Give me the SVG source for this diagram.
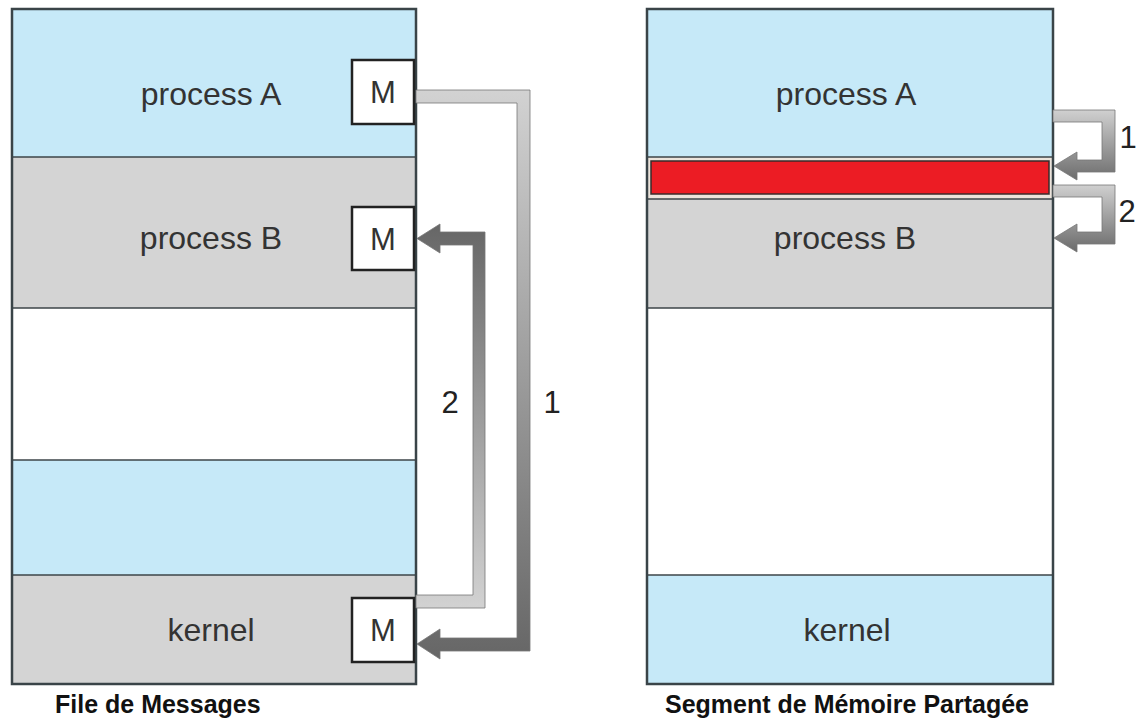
<svg xmlns="http://www.w3.org/2000/svg" width="1141" height="719" viewBox="0 0 1141 719">
  <style>
    .blue { fill: #c6e9f8; }
    .gray { fill: #d4d4d4; }
    .white { fill: #ffffff; }
    .div { stroke: #3c4448; stroke-width: 1.5; }
    .frame { fill: none; stroke: #3a4448; stroke-width: 2.5; }
    .lbl { font-family: "Liberation Sans", Arial, sans-serif; font-size: 32px; fill: #333; text-anchor: middle; }
    .m { font-family: "Liberation Sans", Arial, sans-serif; font-size: 31px; fill: #333; text-anchor: middle; }
    .num { font-family: "Liberation Sans", Arial, sans-serif; font-size: 31px; fill: #222; text-anchor: middle; }
    .cap { font-family: "Liberation Sans", Arial, sans-serif; font-size: 25px; font-weight: bold; fill: #111; }
    .mbox { fill: #ffffff; stroke: #222; stroke-width: 2.5; }
    .arrow { stroke: #777; stroke-width: 0.8; }
  </style>
  <defs>
    <linearGradient id="gA1" gradientUnits="userSpaceOnUse" x1="0" y1="90" x2="0" y2="660">
      <stop offset="0" stop-color="#d2d2d2"/>
      <stop offset="1" stop-color="#666666"/>
    </linearGradient>
    <linearGradient id="gA2" gradientUnits="userSpaceOnUse" x1="0" y1="608" x2="0" y2="224">
      <stop offset="0" stop-color="#d2d2d2"/>
      <stop offset="1" stop-color="#666666"/>
    </linearGradient>
    <linearGradient id="gR1" gradientUnits="userSpaceOnUse" x1="0" y1="110" x2="0" y2="182">
      <stop offset="0" stop-color="#d0d0d0"/>
      <stop offset="1" stop-color="#6a6a6a"/>
    </linearGradient>
    <linearGradient id="gR2" gradientUnits="userSpaceOnUse" x1="0" y1="185" x2="0" y2="252">
      <stop offset="0" stop-color="#d0d0d0"/>
      <stop offset="1" stop-color="#6a6a6a"/>
    </linearGradient>
  </defs>

  <rect x="0" y="0" width="1141" height="719" fill="#ffffff"/>

  <!-- Left panel: message queue -->
  <g id="left-panel">
    <rect class="blue" x="12" y="9" width="404" height="148"/>
    <rect class="gray" x="12" y="157" width="404" height="151"/>
    <rect class="white" x="12" y="308" width="404" height="152"/>
    <rect class="blue" x="12" y="460" width="404" height="115"/>
    <rect class="gray" x="12" y="575" width="404" height="109"/>
    <line class="div" x1="12" y1="157" x2="416" y2="157"/>
    <line class="div" x1="12" y1="308" x2="416" y2="308"/>
    <line class="div" x1="12" y1="460" x2="416" y2="460"/>
    <line class="div" x1="12" y1="575" x2="416" y2="575"/>
    <rect class="frame" x="12" y="9" width="404" height="675"/>
  </g>
  <g id="left-processA">
    <text class="lbl" x="211" y="105">process A</text>
    <rect class="mbox" x="352" y="60" width="62" height="64"/>
    <text class="m" x="383" y="103">M</text>
  </g>
  <g id="left-processB">
    <text class="lbl" x="211" y="249">process B</text>
    <rect class="mbox" x="352" y="207" width="62" height="63"/>
    <text class="m" x="383" y="250">M</text>
  </g>
  <g id="left-kernel">
    <text class="lbl" x="211" y="641">kernel</text>
    <rect class="mbox" x="352" y="598" width="62" height="64"/>
    <text class="m" x="383" y="641">M</text>
  </g>

  <!-- Right panel: shared memory -->
  <g id="right-panel">
    <rect class="blue" x="647" y="9" width="406" height="148"/>
    <rect fill="#ece4dc" x="647" y="157" width="406" height="42"/>
    <rect class="gray" x="647" y="199" width="406" height="109"/>
    <rect class="white" x="647" y="308" width="406" height="267"/>
    <rect class="blue" x="647" y="575" width="406" height="109"/>
    <line class="div" x1="647" y1="157" x2="1053" y2="157"/>
    <line class="div" x1="647" y1="199" x2="1053" y2="199"/>
    <line class="div" x1="647" y1="308" x2="1053" y2="308"/>
    <line class="div" x1="647" y1="575" x2="1053" y2="575"/>
    <rect class="frame" x="647" y="9" width="406" height="675"/>
  </g>
  <g id="shared-segment">
    <rect x="651" y="161" width="398" height="33" fill="#ec1c24" stroke="#3a2a2a" stroke-width="1.5"/>
  </g>
  <g id="right-processA">
    <text class="lbl" x="846" y="105">process A</text>
  </g>
  <g id="right-processB">
    <text class="lbl" x="845" y="249">process B</text>
  </g>
  <g id="right-kernel">
    <text class="lbl" x="847" y="641">kernel</text>
  </g>

  <!-- Connectors -->
  <g id="connectors">
    <polygon class="arrow" fill="url(#gA1)" points="416,90 530,90 530,651 440,651 440,659 417,644 440,629 440,638 517,638 517,103 416,103"/>
    <polygon class="arrow" fill="url(#gA2)" points="416,608 485,608 485,232 440,232 440,224 417,238.5 440,253 440,245 473,245 473,595 416,595"/>
    <polygon class="arrow" fill="url(#gR1)" points="1053,110 1115,110 1115,172 1077,172 1077,180 1054,166 1077,152 1077,160 1102,160 1102,122 1053,122"/>
    <polygon class="arrow" fill="url(#gR2)" points="1053,185 1115,185 1115,244 1077,244 1077,252 1054,238 1077,224 1077,232 1102,232 1102,197 1053,197"/>
    <text class="num" x="450" y="413">2</text>
    <text class="num" x="552" y="413">1</text>
    <text class="num" x="1128" y="148">1</text>
    <text class="num" x="1127" y="222">2</text>
  </g>

  <g id="captions">
    <text class="cap" x="55" y="713">File de Messages</text>
    <text class="cap" x="665" y="713">Segment de Mémoire Partagée</text>
  </g>
</svg>
